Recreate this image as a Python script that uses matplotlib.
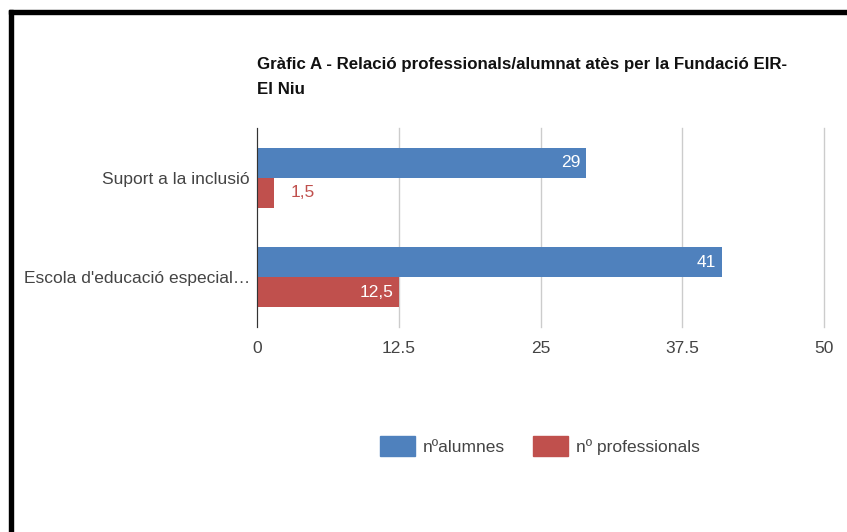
import matplotlib.pyplot as plt
from matplotlib.patches import Rectangle

plt.rcParams["font.family"] = ["Liberation Sans", "DejaVu Sans"]

categories = ["Suport a la inclusió", "Escola d'educació especial…"]
alumnes = [29, 41]
professionals = [1.5, 12.5]
value_labels_alumnes = ["29", "41"]
value_labels_prof = ["1,5", "12,5"]
series_names = ["nºalumnes", "nº professionals"]
ticks = [0, 12.5, 25, 37.5, 50]
tick_labels = ["0", "12.5", "25", "37.5", "50"]

blue = "#4f81bd"
red = "#c0504d"
fs = 12.5

W, H = 847, 532
fig = plt.figure(figsize=(W / 100, H / 100), dpi=100)
ax = fig.add_axes([257 / W, 1 - 327 / H, (824 - 257) / W, (327 - 128) / H])

bh = 0.3
ypos = list(range(len(categories)))
ax.barh([y - bh / 2 for y in ypos], alumnes, height=bh, color=blue, zorder=3)
ax.barh([y + bh / 2 for y in ypos], professionals, height=bh, color=red, zorder=3)

for y, v, lab in zip(ypos, alumnes, value_labels_alumnes):
    ax.text(v - 0.5, y - bh / 2, lab, color="white", ha="right", va="center", fontsize=fs, zorder=4)
for y, v, lab in zip(ypos, professionals, value_labels_prof):
    if v < 5:
        ax.text(v + 1.5, y + bh / 2, lab, color=red, ha="left", va="center", fontsize=fs, zorder=4)
    else:
        ax.text(v - 0.5, y + bh / 2, lab, color="white", ha="right", va="center", fontsize=fs, zorder=4)

ax.set_xlim(0, 50)
ax.set_ylim(1.5, -0.5)
ax.set_xticks(ticks)
ax.set_xticklabels(tick_labels)
ax.set_yticks(ypos)
ax.set_yticklabels(categories)
ax.tick_params(axis="both", length=0, labelsize=fs, colors="#444444")
ax.tick_params(axis="x", pad=10)
ax.tick_params(axis="y", pad=5)
ax.grid(axis="x", color="#cccccc", linewidth=1, zorder=0)
for gl in ax.get_xgridlines():
    gl.set_clip_on(False)
for s in ["top", "right", "bottom"]:
    ax.spines[s].set_visible(False)
ax.spines["left"].set_color("#333333")
ax.spines["left"].set_zorder(5)

fig.text(257 / W, 1 - 77 / H, "Gràfic A - Relació professionals/alumnat atès per la Fundació EIR-\nEl Niu",
         fontsize=12.2, fontweight="bold", ha="left", va="center", linespacing=1.85, color="#111111")

handles = [Rectangle((0, 0), 1, 1, color=blue), Rectangle((0, 0), 1, 1, color=red)]
fig.legend(handles, series_names, loc="center", bbox_to_anchor=(540 / W, 1 - 446 / H), ncol=2,
           frameon=False, fontsize=fs, handlelength=2.0, handleheight=1.32, handletextpad=0.46,
           columnspacing=1.6, labelcolor="#444444")

# black frame on left and top
fig.add_artist(Rectangle((9 / W, 0), 4 / W, 1 - 10 / H, color="black", transform=fig.transFigure))
fig.add_artist(Rectangle((9 / W, 1 - 14 / H), 1, 4 / H, color="black", transform=fig.transFigure))

fig.savefig("out.png", dpi=100)
